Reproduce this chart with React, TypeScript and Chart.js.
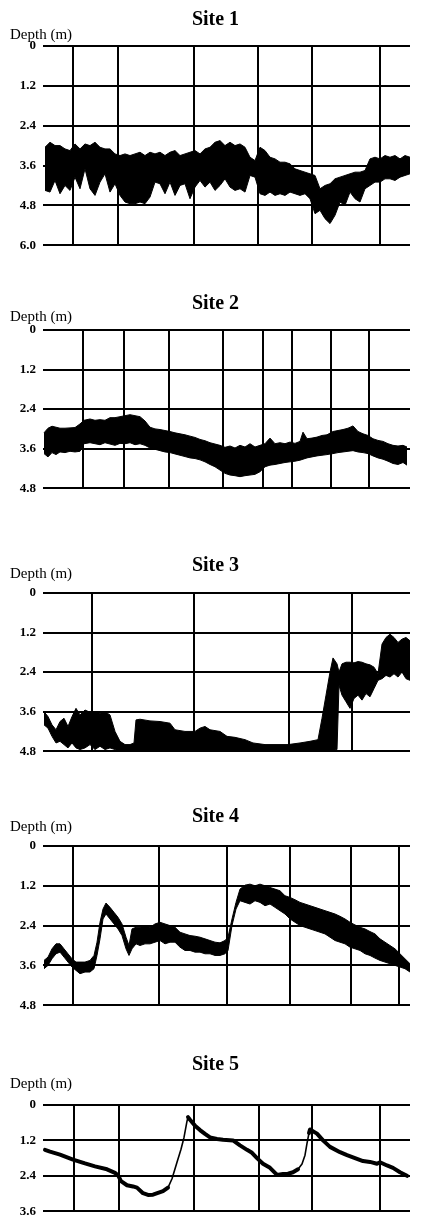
import React, { useEffect, useRef } from "react";
import { Chart, registerables } from "chart.js";

Chart.register(...registerables);

// ---------- Site 1 (band: upper and lower depth of the trace) ----------
const site1Dist = [2, 7, 12, 17, 22, 27, 32, 37, 42, 47, 52, 57, 62, 67, 72, 77, 82, 87, 92, 97, 102, 107, 112, 117, 122, 127, 132, 137, 142, 147, 152, 157, 162, 167, 172, 177, 182, 187, 192, 197, 202, 207, 212, 217, 222, 227, 232, 237, 242, 247, 252, 257, 262, 267, 272, 277, 282, 287, 292, 297, 302, 307, 312, 317, 322, 327, 332, 337, 342, 347, 352, 357, 362, 367, 372, 377, 384];
const site1Top = [3.05, 2.9, 3.0, 3.0, 3.1, 3.15, 2.95, 3.1, 2.95, 3.0, 2.9, 3.05, 3.1, 3.1, 3.25, 3.3, 3.25, 3.3, 3.25, 3.2, 3.3, 3.2, 3.25, 3.2, 3.3, 3.2, 3.15, 3.3, 3.25, 3.2, 3.15, 3.25, 3.1, 3.05, 2.9, 2.85, 3.0, 2.9, 3.0, 2.95, 3.05, 3.35, 3.45, 3.05, 3.15, 3.35, 3.4, 3.5, 3.5, 3.55, 3.7, 3.75, 3.8, 3.85, 3.9, 4.3, 4.2, 4.15, 4.0, 3.95, 3.9, 3.85, 3.8, 3.8, 3.75, 3.4, 3.35, 3.4, 3.3, 3.35, 3.3, 3.4, 3.3, 3.35, 3.3, 3.2, 3.25];
const site1Bottom = [4.35, 4.4, 4.05, 4.45, 4.2, 4.35, 3.95, 4.3, 3.7, 4.3, 4.5, 4.1, 3.85, 4.4, 4.15, 4.5, 4.7, 4.75, 4.75, 4.7, 4.75, 4.55, 4.1, 4.15, 4.45, 4.1, 4.5, 4.2, 4.15, 4.6, 4.25, 4.05, 4.25, 4.1, 4.35, 4.2, 4.0, 4.25, 4.35, 4.3, 4.4, 3.9, 3.95, 4.45, 4.5, 4.4, 4.5, 4.45, 4.5, 4.4, 4.45, 4.5, 4.45, 4.6, 5.05, 4.95, 5.2, 5.35, 5.1, 4.7, 4.8, 4.4, 4.6, 4.7, 4.3, 4.2, 4.1, 4.1, 4.0, 4.0, 4.05, 3.95, 3.9, 3.85, 3.85, 3.8, 3.9];
const site1Grid = [30, 75, 151, 215, 269, 337];
const site1Ticks = [0, 1.2, 2.4, 3.6, 4.8, 6.0];

// ---------- Site 2 ----------
const site2Dist = [1, 5, 9, 13, 17, 22, 27, 32, 37, 41, 47, 52, 57, 62, 67, 72, 77, 82, 87, 92, 97, 102, 107, 112, 117, 122, 127, 132, 137, 142, 147, 152, 157, 162, 167, 172, 177, 182, 187, 192, 197, 202, 207, 212, 217, 222, 227, 232, 237, 242, 247, 252, 257, 260, 264, 269, 274, 279, 284, 290, 295, 300, 305, 310, 315, 320, 325, 330, 335, 340, 345, 350, 355, 360, 364];
const site2Top = [3.12, 2.98, 2.92, 2.95, 2.98, 2.98, 2.97, 2.96, 2.85, 2.74, 2.7, 2.74, 2.72, 2.74, 2.66, 2.66, 2.63, 2.6, 2.57, 2.6, 2.63, 2.76, 2.95, 3.0, 3.02, 3.05, 3.08, 3.12, 3.15, 3.18, 3.22, 3.26, 3.32, 3.36, 3.42, 3.46, 3.5, 3.56, 3.52, 3.58, 3.5, 3.55, 3.45, 3.55, 3.5, 3.45, 3.28, 3.45, 3.42, 3.45, 3.4, 3.44, 3.38, 3.1, 3.3, 3.28, 3.25, 3.2, 3.18, 3.08, 3.05, 3.02, 2.98, 2.91, 3.08, 3.15, 3.2, 3.3, 3.35, 3.38, 3.45, 3.5, 3.52, 3.5, 3.55];
const site2Bottom = [3.75, 3.85, 3.72, 3.78, 3.7, 3.72, 3.68, 3.7, 3.68, 3.45, 3.42, 3.45, 3.48, 3.42, 3.46, 3.5, 3.44, 3.45, 3.42, 3.48, 3.45, 3.5, 3.58, 3.62, 3.66, 3.7, 3.72, 3.76, 3.8, 3.84, 3.88, 3.9, 3.94, 4.0, 4.08, 4.15, 4.25, 4.35, 4.4, 4.42, 4.45, 4.42, 4.4, 4.38, 4.3, 4.15, 4.1, 4.08, 4.05, 4.02, 4.0, 3.98, 3.95, 3.92, 3.88, 3.85, 3.82, 3.8, 3.78, 3.75, 3.72, 3.7, 3.68, 3.66, 3.7, 3.72, 3.75, 3.82, 3.88, 3.92, 3.98, 4.05, 4.08, 4.02, 4.1];
const site2Grid = [40, 81, 126, 180, 220, 249, 288, 326];
const site2Ticks = [0, 1.2, 2.4, 3.6, 4.8];

// ---------- Site 3 ----------
const site3Dist = [1, 5, 9, 13, 17, 21, 25, 29, 33, 37, 42, 47, 52, 57, 62, 67, 72, 77, 82, 87, 91, 93, 97, 107, 117, 127, 132, 142, 152, 157, 162, 167, 177, 184, 192, 202, 210, 222, 237, 245, 257, 267, 275, 279, 283, 287, 290, 294, 296, 299, 303, 307, 311, 315, 319, 323, 327, 331, 335, 339, 343, 347, 351, 355, 359, 363, 367, 371];
const site3Top = [3.6, 3.75, 4.0, 4.15, 3.9, 3.8, 4.05, 3.75, 3.5, 3.7, 3.55, 3.62, 3.6, 3.65, 3.6, 3.7, 4.2, 4.5, 4.6, 4.6, 4.55, 3.85, 3.83, 3.88, 3.9, 3.95, 4.15, 4.2, 4.2, 4.1, 4.05, 4.15, 4.2, 4.35, 4.38, 4.45, 4.55, 4.6, 4.6, 4.6, 4.55, 4.5, 4.45, 3.8, 3.1, 2.4, 1.97, 2.15, 2.4, 2.15, 2.1, 2.1, 2.12, 2.08, 2.1, 2.15, 2.18, 2.25, 2.45, 1.55, 1.35, 1.25, 1.35, 1.5, 1.4, 1.35, 1.45, 1.5];
const site3Bottom = [4.0, 4.1, 4.35, 4.55, 4.5, 4.6, 4.7, 4.55, 4.7, 4.75, 4.7, 4.6, 4.75, 4.65, 4.75, 4.7, 4.75, 4.8, 4.8, 4.8, 4.8, 4.8, 4.8, 4.8, 4.8, 4.8, 4.8, 4.8, 4.8, 4.8, 4.8, 4.8, 4.8, 4.8, 4.8, 4.8, 4.8, 4.8, 4.8, 4.8, 4.8, 4.8, 4.78, 4.78, 4.78, 4.78, 4.78, 4.75, 2.8, 3.1, 3.3, 3.5, 3.2, 3.1, 3.25, 3.05, 3.15, 2.9, 2.65, 2.6, 2.5, 2.55, 2.45, 2.55, 2.4, 2.6, 2.65, 2.55];
const site3Grid = [49, 151, 246, 309];
const site3Ticks = [0, 1.2, 2.4, 3.6, 4.8];

// ---------- Site 4 ----------
const site4Dist = [1, 5, 9, 13, 17, 21, 25, 29, 33, 37, 42, 47, 51, 54, 57, 60, 63, 67, 71, 75, 79, 83, 86, 89, 93, 97, 102, 107, 112, 117, 122, 127, 132, 137, 142, 147, 152, 157, 162, 167, 172, 177, 182, 185, 189, 193, 197, 202, 207, 212, 217, 222, 227, 232, 237, 242, 247, 252, 257, 262, 267, 272, 277, 282, 287, 292, 297, 302, 307, 312, 317, 322, 327, 332, 337, 342, 347, 352, 357, 362, 367, 370];
const site4Top = [3.45, 3.35, 3.1, 2.95, 2.95, 3.1, 3.25, 3.4, 3.5, 3.5, 3.5, 3.45, 3.3, 2.9, 2.3, 1.9, 1.72, 1.85, 2.0, 2.15, 2.35, 2.75, 3.0, 2.5, 2.45, 2.45, 2.4, 2.45, 2.35, 2.3, 2.35, 2.4, 2.45, 2.6, 2.65, 2.7, 2.72, 2.75, 2.8, 2.85, 2.9, 2.92, 2.85, 2.75, 2.2, 1.7, 1.3, 1.18, 1.15, 1.2, 1.15, 1.2, 1.25, 1.3, 1.35, 1.5, 1.55, 1.62, 1.7, 1.75, 1.8, 1.85, 1.9, 1.95, 2.0, 2.05, 2.12, 2.2, 2.3, 2.38, 2.45, 2.5, 2.58, 2.65, 2.8, 2.9, 3.0, 3.1, 3.25, 3.4, 3.55, 3.65];
const site4Bottom = [3.7, 3.6, 3.4, 3.25, 3.2, 3.35, 3.5, 3.65, 3.75, 3.85, 3.8, 3.8, 3.7, 3.3, 2.8, 2.2, 2.05, 2.2, 2.35, 2.5, 2.7, 3.1, 3.3, 3.1, 2.95, 3.0, 2.95, 2.95, 2.9, 2.85, 2.95, 2.9, 2.9, 3.05, 3.15, 3.15, 3.2, 3.2, 3.25, 3.25, 3.3, 3.3, 3.25, 3.15, 2.4, 1.9, 1.65, 1.7, 1.75, 1.65, 1.7, 1.8, 1.75, 1.85, 1.95, 2.05, 2.2, 2.3, 2.4, 2.45, 2.5, 2.55, 2.6, 2.65, 2.75, 2.85, 2.9, 2.95, 3.05, 3.1, 3.15, 3.25, 3.3, 3.38, 3.45, 3.5, 3.55, 3.6, 3.65, 3.7, 3.8, 3.82];
const site4Grid = [30, 116, 184, 247, 308, 356];
const site4Ticks = [0, 1.2, 2.4, 3.6, 4.8];

// ---------- Site 5 (single trace) ----------
const site5Dist = [2, 7, 17, 30, 42, 52, 64, 72, 75, 78, 84, 90, 94, 100, 105, 110, 115, 120, 125, 129, 134, 138, 141, 144, 145, 147, 152, 157, 162, 167, 174, 180, 190, 197, 204, 209, 214, 220, 227, 234, 240, 245, 250, 255, 259, 262, 264, 266, 267, 274, 280, 287, 297, 304, 312, 320, 327, 334, 337, 344, 350, 357, 364];
const site5Depth = [1.52, 1.58, 1.68, 1.85, 1.98, 2.08, 2.18, 2.3, 2.38, 2.58, 2.72, 2.76, 2.8, 2.99, 3.05, 3.04, 2.98, 2.92, 2.8, 2.5, 1.94, 1.5, 1.1, 0.55, 0.41, 0.5, 0.7, 0.85, 0.98, 1.1, 1.15, 1.18, 1.2, 1.37, 1.52, 1.62, 1.8, 1.99, 2.13, 2.37, 2.34, 2.33, 2.28, 2.18, 2.0, 1.7, 1.3, 0.95, 0.83, 0.97, 1.2, 1.42, 1.6, 1.7, 1.8, 1.9, 1.93, 1.99, 1.94, 2.05, 2.13, 2.28, 2.4];
const site5Grid = [31, 76, 151, 216, 269, 337];
const site5Ticks = [0, 1.2, 2.4, 3.6];

const siteTitles = ["Site 1", "Site 2", "Site 3", "Site 4", "Site 5"];
const depthLabel = "Depth (m)";

// ---------- layout (page pixels) ----------
const PAGE_W = 431;
const PAGE_H = 1224;
const PAD_BOTTOM = 8;
const X_SPAN = 367;

type Panel = {
  title: string;
  dist: number[];
  top?: number[];
  bottom?: number[];
  line?: number[];
  grid: number[];
  ticks: number[];
  axisTop: number;
  axisBottom: number;
  titleGap: number;
  labelGap: number;
};

const panels: Panel[] = [
  { title: siteTitles[0], dist: site1Dist, top: site1Top, bottom: site1Bottom, grid: site1Grid, ticks: site1Ticks, axisTop: 46, axisBottom: 252, titleGap: 21, labelGap: 7 },
  { title: siteTitles[1], dist: site2Dist, top: site2Top, bottom: site2Bottom, grid: site2Grid, ticks: site2Ticks, axisTop: 330, axisBottom: 495, titleGap: 21, labelGap: 9 },
  { title: siteTitles[2], dist: site3Dist, top: site3Top, bottom: site3Bottom, grid: site3Grid, ticks: site3Ticks, axisTop: 593, axisBottom: 758, titleGap: 22, labelGap: 15 },
  { title: siteTitles[3], dist: site4Dist, top: site4Top, bottom: site4Bottom, grid: site4Grid, ticks: site4Ticks, axisTop: 846, axisBottom: 1012, titleGap: 24, labelGap: 15 },
  { title: siteTitles[4], dist: site5Dist, line: site5Depth, grid: site5Grid, ticks: site5Ticks, axisTop: 1105, axisBottom: 1218, titleGap: 35, labelGap: 17 },
];

const FONT = '"Liberation Serif", "Times New Roman", serif';

const panelText = {
  id: "panelText",
  afterDraw(chart: any, _args: any, opts: any) {
    const { ctx, chartArea } = chart;
    ctx.save();
    ctx.fillStyle = "#000";
    ctx.textBaseline = "alphabetic";
    ctx.font = `bold 20px ${FONT}`;
    ctx.textAlign = "center";
    ctx.fillText(opts.title, chart.width / 2, chartArea.top - opts.titleGap);
    ctx.font = `15px ${FONT}`;
    ctx.textAlign = "left";
    ctx.fillText(depthLabel, 10, chartArea.top - opts.labelGap);
    ctx.restore();
  },
};

function DepthPanel({ panel }: { panel: Panel }) {
  const ref = useRef<HTMLCanvasElement>(null);
  const padTop = Math.max(46, panel.titleGap + 24);
  const canvasTop = panel.axisTop - padTop;
  const height = panel.axisBottom - panel.axisTop + padTop + PAD_BOTTOM;

  useEffect(() => {
    if (!ref.current) return;
    const datasets: any[] = [];
    if (panel.line) {
      datasets.push({
        data: panel.dist.map((x, i) => ({ x, y: panel.line![i] })),
        borderColor: "#000",
        borderWidth: 4,
        pointRadius: 0,
        fill: false,
        clip: false,
        borderJoinStyle: "round",
        borderCapStyle: "round",
        segment: {
          borderWidth: (c: any) => (c.p1.parsed.y < c.p0.parsed.y - 0.12 ? 1.6 : 4),
        },
      });
    } else {
      datasets.push({
        data: panel.dist.map((x, i) => ({ x, y: panel.top![i] })),
        borderColor: "#000",
        borderWidth: 1,
        pointRadius: 0,
        fill: false,
        clip: false,
      });
      datasets.push({
        data: panel.dist.map((x, i) => ({ x, y: panel.bottom![i] })),
        borderColor: "#000",
        backgroundColor: "#000",
        borderWidth: 1,
        pointRadius: 0,
        fill: "-1",
        clip: false,
      });
    }

    const yMax = panel.ticks[panel.ticks.length - 1];
    const chart = new Chart(ref.current, {
      type: "line",
      data: { datasets },
      plugins: [panelText as any],
      options: {
        responsive: false,
        animation: false,
        events: [],
        layout: { padding: { top: padTop, bottom: PAD_BOTTOM, left: 0, right: PAGE_W - 43 - X_SPAN } },
        plugins: {
          legend: { display: false },
          tooltip: { enabled: false },
          title: { display: false },
          panelText: { title: panel.title, titleGap: panel.titleGap, labelGap: panel.labelGap },
        } as any,
        scales: {
          x: {
            type: "linear",
            min: 0,
            max: X_SPAN,
            afterBuildTicks: (axis: any) => {
              axis.ticks = panel.grid.map((v) => ({ value: v }));
            },
            ticks: { display: false },
            grid: { color: "#000", lineWidth: 2, drawTicks: false },
            border: { display: false },
          },
          y: {
            type: "linear",
            reverse: true,
            min: 0,
            max: yMax,
            afterBuildTicks: (axis: any) => {
              axis.ticks = panel.ticks.map((v) => ({ value: v }));
            },
            afterFit: (axis: any) => {
              axis.width = 43;
            },
            ticks: {
              padding: 7,
              color: "#000",
              font: { family: FONT, size: 13, weight: "bold" },
              callback: (v: any) => (Number(v) === 0 ? "0" : Number(v).toFixed(1)),
            },
            grid: { color: "#000", lineWidth: 2, drawTicks: false },
            border: { display: false },
          },
        },
      } as any,
    });
    return () => chart.destroy();
  }, [panel]);

  return (
    <canvas
      ref={ref}
      width={PAGE_W}
      height={height}
      style={{ position: "absolute", left: 0, top: canvasTop, width: PAGE_W, height, display: "block" }}
    />
  );
}

export default function App() {
  return (
    <div
      style={{
        position: "absolute",
        left: 0,
        top: 0,
        width: PAGE_W,
        height: PAGE_H,
        overflow: "hidden",
        background: "#fff",
      }}
    >
      {panels.map((p) => (
        <DepthPanel key={p.title} panel={p} />
      ))}
    </div>
  );
}
